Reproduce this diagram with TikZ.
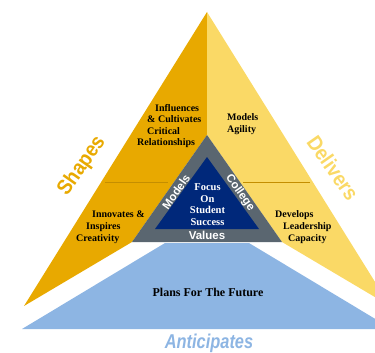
\documentclass[tikz,border=0pt]{standalone}
\usepackage{fontspec}
\usepackage{graphicx}
\setmainfont{Liberation Serif}
\setsansfont{Liberation Sans}
\definecolor{gold}{HTML}{E8A900}
\definecolor{lightyellow}{HTML}{FAD966}
\definecolor{skyblue}{HTML}{8DB5E3}
\definecolor{slategray}{HTML}{5A6670}
\definecolor{navyblue}{HTML}{00287A}
\definecolor{goldline}{HTML}{C48E00}
\begin{document}
\begin{tikzpicture}[x=1pt,y=-1pt,
  body/.style={font=\fontsize{10}{11.5}\selectfont\bfseries, inner sep=0pt, anchor=base west, text=black},
  focus/.style={font=\fontsize{10.5}{12}\selectfont\bfseries, inner sep=0pt, anchor=base, text=white},
  sidelabel/.style={font=\fontsize{11.5}{12}\selectfont\sffamily\bfseries, inner sep=0pt, text=white},
  biglabel/.style={font=\fontsize{21}{22}\selectfont\sffamily\bfseries, inner sep=0pt},
  divider/.style={goldline, line width=1pt}]
\useasboundingbox (0,0) rectangle (375,353);
\begin{scope}
  \clip (0,0) rectangle (375,353);
  \fill[gold] (207,12) -- (24,306) -- (132,242) -- (207,135) -- cycle;
  \fill[lightyellow] (207,12) -- (390,306) -- (282,242) -- (207,135) -- cycle;
  \fill[skyblue] (165,243) -- (249,243) -- (392,329) -- (22,329) -- cycle;
\end{scope}
\fill[slategray] (207,135) -- (132,242) -- (282,242) -- cycle;
\fill[navyblue] (207,157) -- (155,229) -- (259,229) -- cycle;
\coordinate (dl1) at (105,182);
\coordinate (dl2) at (168,182);
\coordinate (dr1) at (243,182);
\coordinate (dr2) at (310,182);
\draw[divider] (dl1) -- (dl2);
\draw[divider] (dr1) -- (dr2);
% upper left
\node[body] (inf1) at (155,111) {Influences};
\node[body] (inf2) at (147,122.5) {\& Cultivates};
\node[body] (inf3) at (147,134) {Critical};
\node[body] (inf4) at (137,145.5) {Relationships};
% upper right
\node[body] (ma1) at (227,120.5) {Models};
\node[body] (ma2) at (227,132.5) {Agility};
% lower left
\node[body] (inn1) at (92,217.5) {Innovates \&};
\node[body] (inn2) at (86,229.5) {Inspires};
\node[body] (inn3) at (76,241.5) {Creativity};
% lower right
\node[body] (dev1) at (275,217.5) {Develops};
\node[body] (dev2) at (283,229.5) {Leadership};
\node[body] (dev3) at (288,241.5) {Capacity};
% centre
\node[focus] (f1) at (207.5,190.5) {Focus};
\node[focus] (f2) at (207.5,202) {On};
\node[focus] (f3) at (207.5,213.5) {Student};
\node[focus] (f4) at (207.5,225.5) {Success};
\node[sidelabel] (values) at (207,235) {Values};
\node[sidelabel, rotate=55] (models) at (176,192) {Models};
\node[sidelabel, rotate=-55] (college) at (240,193) {College};
\node[font=\fontsize{12}{13}\selectfont\bfseries, inner sep=0pt] (plans) at (208,292) {Plans For The Future};
% outer labels
\node[biglabel, text=gold, rotate=55] (shapes) at (82,166) {\scalebox{0.9}[1]{Shapes}};
\node[biglabel, text=lightyellow, rotate=-55] (delivers) at (333,168) {\scalebox{0.9}[1]{Delivers}};
\node[biglabel, font=\fontsize{20}{21}\selectfont\sffamily\bfseries, text=skyblue] (anticipates) at (209,343) {\scalebox{0.82}[1]{\itshape Anticipates}};
\end{tikzpicture}
\end{document}
